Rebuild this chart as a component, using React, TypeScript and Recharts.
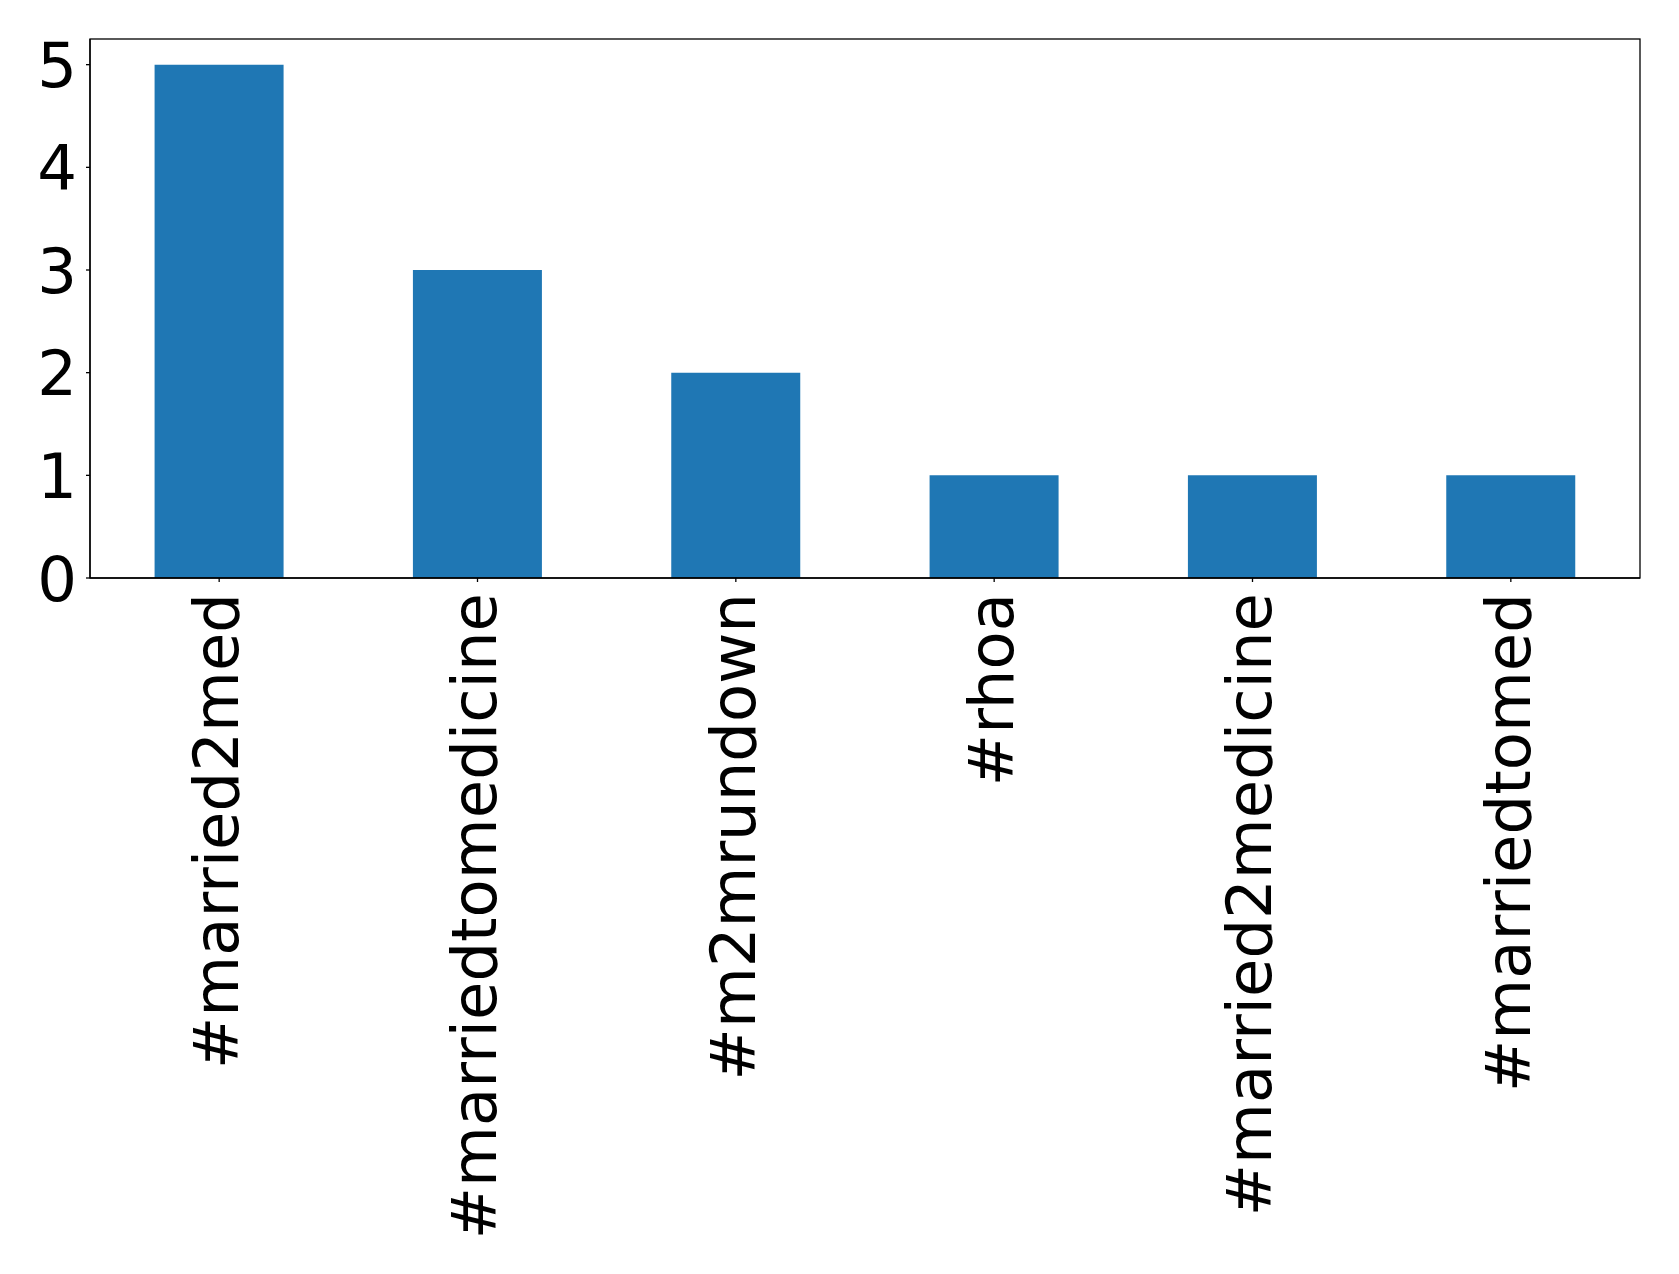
import { BarChart, Bar, XAxis, YAxis } from 'recharts';

const hashtags = [
  '#married2med',
  '#marriedtomedicine',
  '#m2mrundown',
  '#rhoa',
  '#married2medicine',
  '#marriedtomed',
];
const counts = [5, 3, 2, 1, 1, 1];
const yTicks = [0, 1, 2, 3, 4, 5];

const data = hashtags.map((tag, i) => ({ tag, count: counts[i] }));

const W = 1679;
const H = 1274;
const M = { top: 39, right: 39, left: 90, bottom: 696 };
const FONT = 'DejaVu Sans, sans-serif';
const FONT_SIZE = 62.5;

function XTick(props: any) {
  const { x, y, payload } = props;
  return (
    <text
      x={x}
      y={y}
      transform={`rotate(-90, ${x}, ${y})`}
      textAnchor="end"
      dy="0.3em"
      fontFamily={FONT}
      fontSize={FONT_SIZE}
      fill="#000"
    >
      {payload.value}
    </text>
  );
}

function YTick(props: any) {
  const { x, y, payload } = props;
  return (
    <text x={x + 2} y={y} textAnchor="end" dy="0.36em" fontFamily={FONT} fontSize={FONT_SIZE} fill="#000">
      {payload.value}
    </text>
  );
}

export default function App() {
  return (
    <div style={{ position: 'absolute', left: 0, top: 0, width: W, height: H, background: '#fff' }}>
      <BarChart
        width={W}
        height={H}
        data={data}
        margin={{ top: M.top, right: M.right, left: 0, bottom: 0 }}
        barCategoryGap="25%"
      >
        <XAxis
          dataKey="tag"
          type="category"
          height={M.bottom}
          interval={0}
          tick={<XTick />}
          tickSize={4}
          tickMargin={11}
          axisLine={{ stroke: '#000', strokeWidth: 1.3 }}
          tickLine={{ stroke: '#000', strokeWidth: 1.3 }}
        />
        <YAxis
          type="number"
          domain={[0, 5.25]}
          ticks={yTicks}
          width={M.left}
          tick={<YTick />}
          tickSize={4}
          tickMargin={11}
          allowDataOverflow
          axisLine={{ stroke: '#000', strokeWidth: 1.3 }}
          tickLine={{ stroke: '#000', strokeWidth: 1.3 }}
        />
        <Bar dataKey="count" fill="#1f77b4" isAnimationActive={false} />
      </BarChart>
      {/* frame around the plot area (top/right spines) */}
      <svg
        width={W}
        height={H}
        style={{ position: 'absolute', left: 0, top: 0, pointerEvents: 'none' }}
      >
        <rect
          x={M.left}
          y={M.top}
          width={W - M.left - M.right}
          height={H - M.top - M.bottom}
          fill="none"
          stroke="#000"
          strokeWidth={1.3}
        />
      </svg>
    </div>
  );
}
